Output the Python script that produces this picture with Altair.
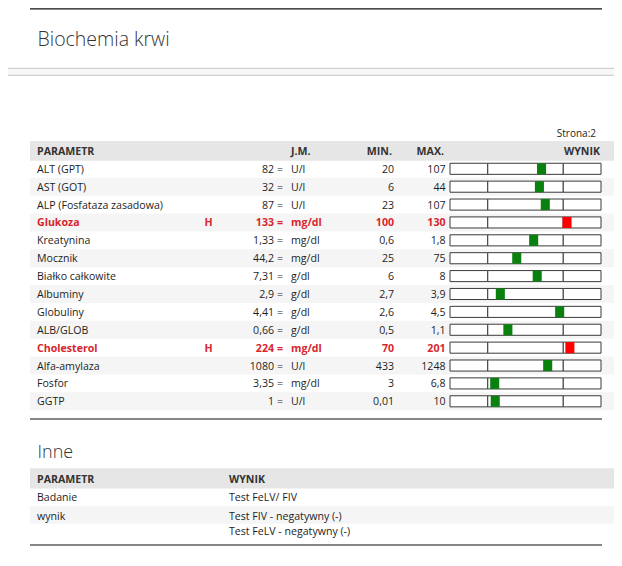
import altair as alt
import pandas as pd

# ---------------- data ----------------
names = ["ALT (GPT)", "AST (GOT)", "ALP (Fosfataza zasadowa)", "Glukoza", "Kreatynina",
         "Mocznik", "Białko całkowite", "Albuminy", "Globuliny", "ALB/GLOB",
         "Cholesterol", "Alfa-amylaza", "Fosfor", "GGTP"]
values = [82, 32, 87, 133, 1.33, 44.2, 7.31, 2.9, 4.41, 0.66, 224, 1080, 3.35, 1]
units = ["U/l", "U/l", "U/l", "mg/dl", "mg/dl", "mg/dl", "g/dl", "g/dl", "g/dl", "g/dl",
         "mg/dl", "U/l", "mg/dl", "U/l"]
mins = [20, 6, 23, 100, 0.6, 25, 6, 2.7, 2.6, 0.5, 70, 433, 3, 0.01]
maxs = [107, 44, 107, 130, 1.8, 75, 8, 3.9, 4.5, 1.1, 201, 1248, 6.8, 10]
flags = ["", "", "", "H", "", "", "", "", "", "", "H", "", "", ""]

headers1 = ["PARAMETR", "J.M.", "MIN.", "MAX.", "WYNIK"]
page_label = "Strona:2"
title1 = "Biochemia krwi"
title2 = "Inne"
headers2 = ["PARAMETR", "WYNIK"]
other_params = ["Badanie", "wynik"]
other_results = ["Test FeLV/ FIV", "Test FIV - negatywny (-)"]
other_results_extra = ["", "Test FeLV - negatywny (-)"]

# ---------------- helpers ----------------
FONT = "Open Sans"
FS = 10.6
TXT = "#1e1e1e"
RED = "#d8262e"
GREEN = "#0a800f"
HIGH = "#ff0000"


def fmt(v):
    return ("%g" % v).replace(".", ",")


def pos(v, lo, hi):
    n = (v - lo) / (hi - lo)
    if n > 1:
        return 1 + (n - 1) / 2
    if n < 0:
        return n / 2
    return n


rows = list(range(len(names)))
df1 = pd.DataFrame({
    "row": rows,
    "name": names,
    "flag": flags,
    "val": [fmt(v) for v in values],
    "unit": units,
    "min": [fmt(v) for v in mins],
    "max": [fmt(v) for v in maxs],
    "p": [pos(v, a, b) for v, a, b in zip(values, mins, maxs)],
})
df1["high"] = df1["flag"] == "H"
df1["y0"] = df1["row"] - 0.31
df1["y1"] = df1["row"] + 0.31
df1["p0"] = df1["p"] - 0.06
df1["p1"] = df1["p"] + 0.06

Y1 = alt.Scale(domain=[0, 13], range=[160.8, 393.3], nice=False, zero=False)
XG = alt.Scale(domain=[-0.5, 1.5], range=[442, 593], nice=False, zero=False)
Y2 = alt.Scale(domain=[0, 1], range=[489, 507.5], nice=False, zero=False)

dummy = pd.DataFrame({"a": [0]})


def txt(df, field, x, align, scale, color=TXT, bold=False, size=FS, dy=1, weight=None):
    w = weight if weight is not None else ("bold" if bold else "normal")
    return alt.Chart(df).mark_text(
        align=align, baseline="middle", font=FONT, fontSize=size,
        color=color, fontWeight=w, dy=dy
    ).encode(
        x=alt.value(x),
        y=alt.Y("row:Q", scale=scale, axis=None),
        text=alt.Text(f"{field}:N"),
    )


layers = []

# page decoration
layers.append(alt.Chart(dummy).mark_rule(color="#111111", strokeWidth=1.3).encode(
    x=alt.value(22), x2=alt.value(594), y=alt.value(0.8)))
layers.append(alt.Chart(dummy).mark_rect(fill="#f7f7f7", stroke="#c6c6c6", strokeWidth=1).encode(
    x=alt.value(-10), x2=alt.value(616), y=alt.value(60.3), y2=alt.value(67.3)))

# titles
layers.append(alt.Chart(pd.DataFrame({"row": [0], "t": [title1]})).mark_text(
    align="left", baseline="middle", font=FONT, fontSize=19.5, fontWeight=300, color="#333333"
).encode(x=alt.value(29.5), y=alt.value(32), text="t:N"))
layers.append(alt.Chart(pd.DataFrame({"row": [0], "t": [title2]})).mark_text(
    align="left", baseline="middle", font=FONT, fontSize=18, fontWeight=300, color="#333333"
).encode(x=alt.value(29.5), y=alt.value(445), text="t:N"))

# section 1 bands
hdr1 = pd.DataFrame({"row": [-1], "a": [-1.56], "b": [-0.45]})
layers.append(alt.Chart(hdr1).mark_rect(fill="#e6e6e6").encode(
    x=alt.value(22), x2=alt.value(606),
    y=alt.Y("a:Q", scale=Y1, axis=None), y2="b:Q"))
stripes = df1[df1["row"] % 2 == 1].copy()
stripes["a"] = stripes["row"] - 0.5
stripes["b"] = stripes["row"] + 0.5
layers.append(alt.Chart(stripes).mark_rect(fill="#f5f5f5").encode(
    x=alt.value(22), x2=alt.value(606),
    y=alt.Y("a:Q", scale=Y1, axis=None), y2="b:Q"))

# header text
hd = lambda s: pd.DataFrame({"row": [-1], "t": [s]})
layers.append(txt(hd(headers1[0]), "t", 29, "left", Y1, color="#333333", bold=True))
layers.append(txt(hd(headers1[1]), "t", 283, "left", Y1, color="#333333", bold=True))
layers.append(txt(hd(headers1[2]), "t", 384, "right", Y1, color="#333333", bold=True))
layers.append(txt(hd(headers1[3]), "t", 436, "right", Y1, color="#333333", bold=True))
layers.append(txt(hd(headers1[4]), "t", 592, "right", Y1, color="#333333", bold=True))
layers.append(txt(pd.DataFrame({"row": [-2], "t": [page_label]}), "t", 588, "right", Y1, size=10))

# row text
for sub, color, bold in [(df1[~df1["high"]], TXT, False), (df1[df1["high"]], RED, True)]:
    layers.append(txt(sub, "name", 29, "left", Y1, color, bold))
    layers.append(txt(sub, "flag", 200.5, "center", Y1, color, True))
    layers.append(txt(sub, "val", 266, "right", Y1, color, bold))
    layers.append(alt.Chart(sub).mark_text(
        align="left", baseline="middle", font=FONT, fontSize=FS, color=color,
        fontWeight="bold" if bold else "normal", dy=1, text="="
    ).encode(x=alt.value(269), y=alt.Y("row:Q", scale=Y1, axis=None)))
    layers.append(txt(sub, "unit", 283, "left", Y1, color, bold))
    layers.append(txt(sub, "min", 386, "right", Y1, color, bold))
    layers.append(txt(sub, "max", 437.5, "right", Y1, color, bold))

# gauges
seg_rows = []
for r in rows:
    for a, b in [(-0.5, 0), (0, 1), (1, 1.5)]:
        seg_rows.append({"row": r, "s0": a, "s1": b, "y0": r - 0.31, "y1": r + 0.31})
segs = pd.DataFrame(seg_rows)
layers.append(alt.Chart(segs).mark_rect(fill="white", stroke="#3a3a3a", strokeWidth=1).encode(
    x=alt.X("s0:Q", scale=XG, axis=None), x2="s1:Q",
    y=alt.Y("y0:Q", scale=Y1, axis=None), y2="y1:Q"))
layers.append(alt.Chart(df1).mark_rect().encode(
    x=alt.X("p0:Q", scale=XG, axis=None), x2="p1:Q",
    y=alt.Y("y0:Q", scale=Y1, axis=None), y2="y1:Q",
    color=alt.Color("high:N", scale=alt.Scale(domain=[False, True], range=[GREEN, HIGH]), legend=None)))

# bottom line section 1
layers.append(alt.Chart(dummy).mark_rule(color="#111111", strokeWidth=1.2).encode(
    x=alt.value(22), x2=alt.value(594), y=alt.value(411)))

# ---------------- section 2 ----------------
df2 = pd.DataFrame({"row": [0, 1], "param": other_params, "res": other_results,
                    "extra": other_results_extra})
hdr2 = pd.DataFrame({"row": [-1], "a": [-1.56], "b": [-0.46]})
layers.append(alt.Chart(hdr2).mark_rect(fill="#e6e6e6").encode(
    x=alt.value(22), x2=alt.value(606),
    y=alt.Y("a:Q", scale=Y2, axis=None), y2="b:Q"))
str2 = df2[df2["row"] % 2 == 1].copy()
str2["a"] = str2["row"] - 0.5
str2["b"] = str2["row"] + 0.45
layers.append(alt.Chart(str2).mark_rect(fill="#f5f5f5").encode(
    x=alt.value(22), x2=alt.value(606),
    y=alt.Y("a:Q", scale=Y2, axis=None), y2="b:Q"))
layers.append(txt(pd.DataFrame({"row": [-1], "t": [headers2[0]]}), "t", 29, "left", Y2, color="#333333", bold=True))
layers.append(txt(pd.DataFrame({"row": [-1], "t": [headers2[1]]}), "t", 221, "left", Y2, color="#333333", bold=True))
layers.append(txt(df2, "param", 29, "left", Y2))
layers.append(txt(df2, "res", 221, "left", Y2))
layers.append(txt(df2, "extra", 221, "left", Y2, dy=16))
layers.append(alt.Chart(dummy).mark_rule(color="#111111", strokeWidth=1.2).encode(
    x=alt.value(22), x2=alt.value(594), y=alt.value(537)))

chart = alt.layer(*layers).resolve_scale(
    x="independent", y="independent", color="independent"
).properties(
    width=606, height=550, padding=0, autosize="none", background="white"
).configure_view(stroke=None)

chart.save("out.html", embed_options={"renderer": "svg", "actions": False})
